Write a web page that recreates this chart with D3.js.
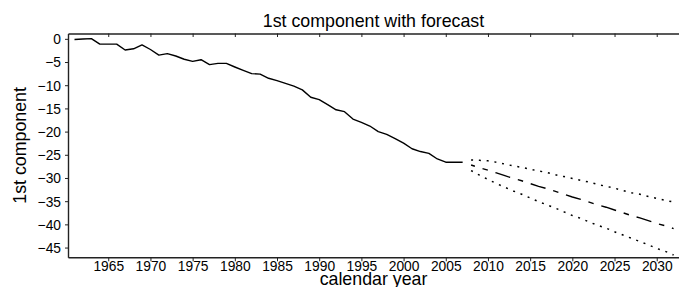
<!DOCTYPE html>
<html><head><meta charset="utf-8">
<script src="https://cdn.jsdelivr.net/npm/d3@7"></script>
<style>
html,body{margin:0;padding:0;background:#fff;}
svg{display:block;font-family:"Liberation Sans",Arial,Helvetica,sans-serif;}
</style></head>
<body>
<svg id="chart" width="679" height="287"></svg>
<script>
const years = [1961,1962,1963,1964,1965,1966,1967,1968,1969,1970,1971,1972,1973,1974,1975,1976,1977,1978,1979,1980,1981,1982,1983,1984,1985,1986,1987,1988,1989,1990,1991,1992,1993,1994,1995,1996,1997,1998,1999,2000,2001,2002,2003,2004,2005,2006,2007];
const component = [-0.15,-0.05,0.05,-1.15,-1.15,-1.15,-2.4,-2.15,-1.3,-2.3,-3.5,-3.2,-3.7,-4.4,-4.85,-4.5,-5.55,-5.3,-5.3,-6.07,-6.8,-7.5,-7.6,-8.5,-9.0,-9.6,-10.2,-11.0,-12.6,-13.1,-14.2,-15.3,-15.7,-17.3,-18.0,-18.8,-20.0,-20.6,-21.5,-22.5,-23.7,-24.3,-24.7,-25.9,-26.6,-26.6,-26.6];
const forecastYears = [2008,2009,2010,2011,2012,2013,2014,2015,2016,2017,2018,2019,2020,2021,2022,2023,2024,2025,2026,2027,2028,2029,2030,2031,2032];
const forecastMean = [-27.2,-27.8,-28.3,-28.9,-29.5,-30.1,-30.6,-31.2,-31.8,-32.3,-32.9,-33.5,-34.1,-34.6,-35.2,-35.8,-36.3,-36.9,-37.5,-38.1,-38.6,-39.2,-39.8,-40.3,-40.9];
const forecastUpper = [-26.1,-26.2,-26.3,-26.6,-27.0,-27.4,-27.7,-28.1,-28.5,-28.8,-29.3,-29.7,-30.1,-30.5,-30.9,-31.4,-31.8,-32.2,-32.7,-33.2,-33.5,-34.0,-34.4,-34.8,-35.2];
const forecastLower = [-28.4,-29.4,-30.3,-31.2,-32.0,-32.8,-33.5,-34.3,-35.1,-35.8,-36.5,-37.3,-38.1,-38.7,-39.5,-40.2,-40.8,-41.6,-42.3,-43.0,-43.7,-44.4,-45.2,-45.8,-46.6];
const xTicks = [1965,1970,1975,1980,1985,1990,1995,2000,2005,2010,2015,2020,2025,2030];
const yTicks = [0,-5,-10,-15,-20,-25,-30,-35,-40,-45];

const svg = d3.select("#chart");
const L = 68, R = 679, T = 33.5, B = 257.3;
const x = d3.scaleLinear().domain([1960.23, 2032.64]).range([L, R]);
const y = d3.scaleLinear().domain([1.15, -47.1]).range([T, B]);

// axes
const gBottom = svg.append("g").attr("transform", `translate(0,${B})`)
  .call(d3.axisBottom(x).tickValues(xTicks).tickFormat(d3.format("d")).tickSizeInner(4).tickSizeOuter(0).tickPadding(0));
const gTop = svg.append("g").attr("transform", `translate(0,${T})`)
  .call(d3.axisTop(x).tickValues(xTicks).tickFormat("").tickSizeInner(-3.5).tickSizeOuter(0));
const gLeft = svg.append("g").attr("transform", `translate(${L},0)`)
  .call(d3.axisLeft(y).tickValues(yTicks).tickFormat(d3.format("d")).tickSizeInner(3).tickSizeOuter(0).tickPadding(4));
[gBottom, gTop, gLeft].forEach(g => {
  g.select(".domain").attr("stroke", "#222").attr("stroke-width", 1.4);
  g.selectAll(".tick line").attr("stroke", "#222").attr("stroke-width", 1);
  g.selectAll("text").attr("fill", "#000").attr("font-size", "13.8px")
    .attr("font-family", "Liberation Sans, Arial, sans-serif");
});
gBottom.selectAll("text").attr("dy", "0.75em").attr("y", 3);
gLeft.selectAll("text").attr("dy", "0.36em");

// main line
const line = d3.line().x(d => x(d[0])).y(d => y(d[1]));
svg.append("path").datum(years.map((yr, i) => [yr, component[i]]))
  .attr("d", line).attr("fill", "none").attr("stroke", "#000").attr("stroke-width", 1.4)
  .attr("stroke-linejoin", "round");

// forecast
svg.append("path").datum(forecastYears.map((yr, i) => [yr, forecastMean[i]]))
  .attr("d", line).attr("fill", "none").attr("stroke", "#000").attr("stroke-width", 1.4)
  .attr("stroke-dasharray", "15.5,8,5.5,8").attr("stroke-dashoffset", 11.5);
[forecastUpper, forecastLower].forEach(arr => {
  svg.append("path").datum(forecastYears.map((yr, i) => [yr, arr[i]]))
    .attr("d", line).attr("fill", "none").attr("stroke", "#000").attr("stroke-width", 1.5)
    .attr("stroke-dasharray", "2,5.8");
});

// titles
svg.append("text").attr("x", (L + R) / 2).attr("y", 26.5).attr("text-anchor", "middle")
  .attr("font-size", "17.8px").text("1st component with forecast");
svg.append("text").attr("x", (L + R) / 2).attr("y", 285).attr("text-anchor", "middle")
  .attr("font-size", "17.8px").text("calendar year");
svg.append("text").attr("transform", `translate(26,${(T + B) / 2}) rotate(-90)`)
  .attr("text-anchor", "middle").attr("font-size", "17.8px").text("1st component");
</script>
</body></html>
